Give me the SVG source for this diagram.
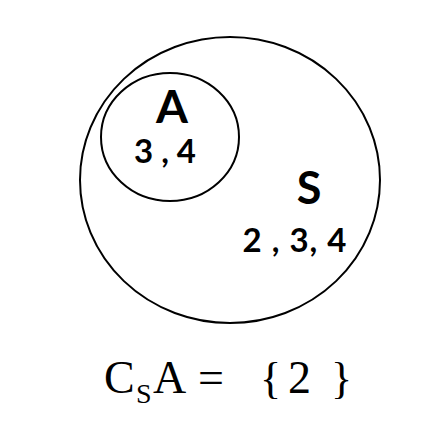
<svg xmlns="http://www.w3.org/2000/svg" width="446" height="446" viewBox="0 0 446 446">
<style>
.set{fill:none;stroke:#000;stroke-width:2}
.lbl{font-family:Lato,"Open Sans","Liberation Sans",sans-serif;font-weight:bold;fill:#000}
.eq{font-family:"Liberation Serif","Times New Roman",serif;fill:#000}
</style>
<rect width="446" height="446" fill="#fff"/>
<g id="S">
<ellipse class="set" cx="230" cy="180" rx="150" ry="143"/>
<text class="lbl" x="309" y="204" font-size="45" text-anchor="middle">S</text>
<text class="lbl" x="295" y="252" font-size="33" text-anchor="middle" letter-spacing="1">2 , 3, 4</text>
</g>
<g id="A">
<ellipse class="set" cx="170" cy="137" rx="69" ry="64"/>
<text class="lbl" x="172" y="123" font-size="46" text-anchor="middle">A</text>
<text class="lbl" x="165" y="163" font-size="33" text-anchor="middle">3 , 4</text>
</g>
<g id="formula">
<text class="eq" x="104" y="393" font-size="46">C</text>
<text class="eq" x="136" y="403" font-size="28">S</text>
<text class="eq" x="153" y="393" font-size="46">A</text>
<text class="eq" x="198" y="393" font-size="46">=</text>
<text class="eq" x="260" y="393" font-size="44">{</text>
<text class="eq" x="288" y="393" font-size="46">2</text>
<text class="eq" x="331" y="393" font-size="44">}</text>
</g>
</svg>
